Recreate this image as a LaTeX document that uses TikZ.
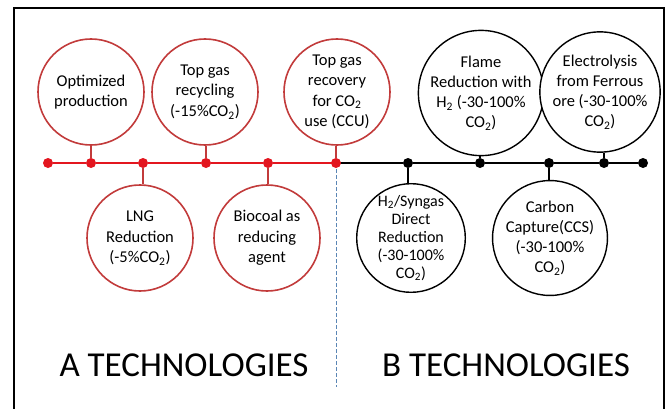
\documentclass[tikz,border=0pt]{standalone}
\usepackage{fontspec}
\setmainfont{Carlito}
\definecolor{lred}{HTML}{E3161F}
\definecolor{cred}{HTML}{C23B3B}
\definecolor{dblue}{HTML}{5B86B5}
\begin{document}
\begin{tikzpicture}[x=1pt,y=1pt,
  rcirc/.style={circle,draw=cred,line width=1.6pt,fill=white,minimum size=106pt,inner sep=0pt,align=center,font=\fontsize{16.5}{20.5}\selectfont},
  bcirc/.style={circle,draw=black,line width=1.4pt,fill=white,minimum size=106pt,inner sep=0pt,align=center,font=\fontsize{16.5}{20}\selectfont},
  rdot/.style={circle,fill=lred,minimum size=10pt,inner sep=0pt},
  bdot/.style={circle,fill=black,minimum size=10pt,inner sep=0pt},
  rline/.style={draw=lred,line width=2pt},
  bline/.style={draw=black,line width=2pt},
  big/.style={font=\fontsize{35}{40}\selectfont}]
\useasboundingbox (0,0) rectangle (669,-409);
\fill[white] (0,0) rectangle (669,-409);
\draw[line width=2pt] (14,-409) -- (14,-8) -- (664,-8) -- (664,-409);
% dots
\node[rdot] (r1) at (48,-163) {};
\node[rdot] (r2) at (91,-163) {};
\node[rdot] (r3) at (143,-163) {};
\node[rdot] (r4) at (206,-163) {};
\node[rdot] (r5) at (268,-163) {};
\node[bdot] (b1) at (408,-163) {};
\node[bdot] (b2) at (480,-163) {};
\node[bdot] (b3) at (549,-163) {};
\node[bdot] (b4) at (604,-163) {};
\node[bdot] (b5) at (643,-163) {};
\coordinate (mid) at (336,-163);
\coordinate (dashend) at (336,-387);
\draw[dblue,line width=1pt,dash pattern=on 4pt off 2pt] (mid) -- (dashend);
\draw[rline] (r1) -- (r2) -- (r3) -- (r4) -- (r5) -- (mid);
\draw[bline] (mid) -- (b1) -- (b2) -- (b3) -- (b4) -- (b5);
\node[rdot] (r6) at (mid) {};
% circles
\node[rcirc] (c1) at (91,-92) {Optimized\\production};
\node[rcirc] (c2) at (205,-92) {Top gas\\recycling\\(-15\%CO\textsubscript{2})};
\node[rcirc] (c3) at (337,-92) {Top gas\\recovery\\for CO\textsubscript{2}\\use (CCU)};
\node[rcirc] (c4) at (140,-238) {LNG\\Reduction\\(-5\%CO\textsubscript{2})};
\node[rcirc] (c5) at (267,-238) {Biocoal as\\reducing\\agent};
\node[bcirc] (c6) at (481,-93) {Flame\\Reduction with\\H\textsubscript{2} (-30-100\%\\CO\textsubscript{2})};
\node[bcirc] (c7) at (600,-92) {Electrolysis\\from Ferrous\\ore (-30-100\%\\CO\textsubscript{2})};
\node[bcirc,font=\fontsize{16}{18}\selectfont] (c8) at (411,-238) {H\textsubscript{2}/Syngas\\Direct\\Reduction\\(-30-100\%\\CO\textsubscript{2})};
\node[bcirc] (c9) at (550,-238) {Carbon\\Capture(CCS)\\(-30-100\%\\CO\textsubscript{2})};
% connectors
\draw[draw=cred,line width=1.6pt] (c1.south) -- (r2);
\draw[draw=cred,line width=1.6pt] (c2.south -| r4) -- (r4);
\draw[draw=cred,line width=1.6pt] (c3.south -| r6) -- (r6);
\draw[draw=cred,line width=1.6pt] (c4.north -| r3) -- (r3);
\draw[draw=cred,line width=1.6pt] (c5.north -| r5) -- (r5);
\draw[line width=1.6pt] (c6.south -| b2) -- (b2);
\draw[line width=1.6pt] (c7.south -| b4) -- (b4);
\draw[line width=1.6pt] (c8.north -| b1) -- (b1);
\draw[line width=1.6pt] (c9.north -| b3) -- (b3);
% titles
\node[big] (ta) at (184,-365) {A TECHNOLOGIES};
\node[big] (tb) at (506,-365) {B TECHNOLOGIES};
\end{tikzpicture}
\end{document}
